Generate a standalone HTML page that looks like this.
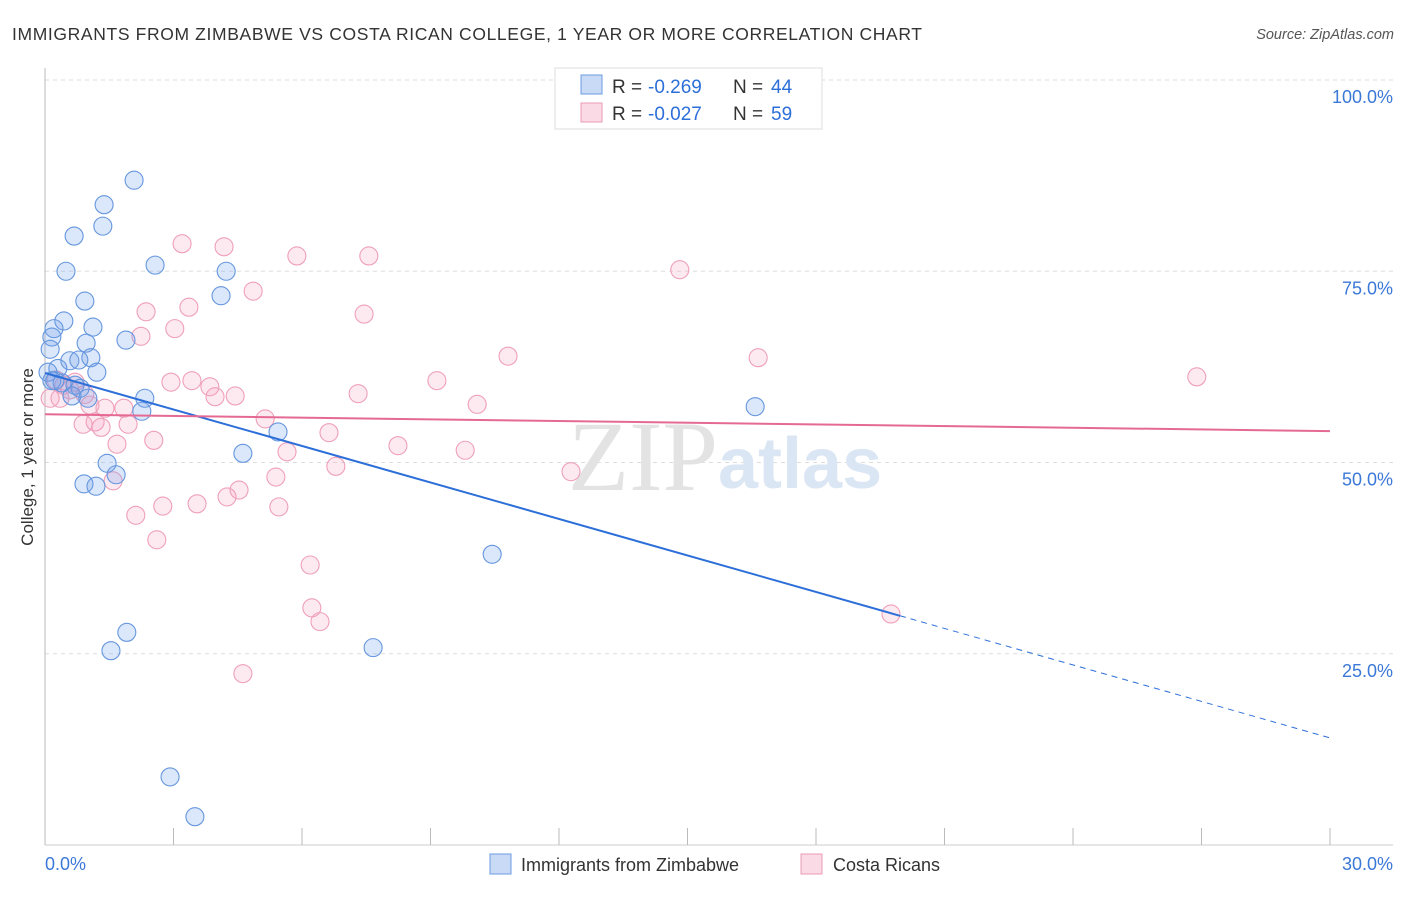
<!DOCTYPE html>
<html><head><meta charset="utf-8"><style>
body{margin:0;background:#fff;font-family:"Liberation Sans",sans-serif;}
svg text{font-family:"Liberation Sans",sans-serif;}
</style></head><body>
<svg width="1406" height="892" xmlns="http://www.w3.org/2000/svg" id="chart">
<text x="12" y="40" font-size="17.5" fill="#333" textLength="910" lengthAdjust="spacing">IMMIGRANTS FROM ZIMBABWE VS COSTA RICAN COLLEGE, 1 YEAR OR MORE CORRELATION CHART</text>
<text x="1394" y="39" font-size="14.5" fill="#555" font-style="italic" text-anchor="end">Source: ZipAtlas.com</text>
<g id="grid"></g>
<text x="718" y="490" font-size="100" fill="#e3e3e3" text-anchor="end" style="font-family:'Liberation Serif',serif">ZIP</text>
<text x="718" y="488" font-size="72" fill="#dbe6f4" font-weight="bold">atlas</text>
<g id="axes"></g>
<g id="pts"></g>
<g id="lines"></g>
<text x="33" y="457" font-size="17" fill="#333" text-anchor="middle" transform="rotate(-90 33 457)">College, 1 year or more</text>
<g>
<rect x="555" y="68" width="267" height="61" fill="#fff" stroke="#ddd"/>
<rect x="581" y="75" width="21" height="19" fill="rgba(100,150,230,0.35)" stroke="#6a9be0"/>
<rect x="581" y="103" width="21" height="19" fill="rgba(240,150,180,0.35)" stroke="#ea9ab4"/>
<text x="612" y="93" font-size="19" fill="#333">R =</text>
<text x="648" y="93" font-size="19" fill="#2d6fd8">-0.269</text>
<text x="733" y="93" font-size="19" fill="#333">N =</text>
<text x="771" y="93" font-size="19" fill="#2d6fd8">44</text>
<text x="612" y="120" font-size="19" fill="#333">R =</text>
<text x="648" y="120" font-size="19" fill="#2d6fd8">-0.027</text>
<text x="733" y="120" font-size="19" fill="#333">N =</text>
<text x="771" y="120" font-size="19" fill="#2d6fd8">59</text>
</g>
<rect x="490" y="854" width="21" height="20" fill="rgba(100,150,230,0.35)" stroke="#6a9be0"/>
<text x="521" y="871" font-size="18" fill="#333">Immigrants from Zimbabwe</text>
<rect x="801" y="854" width="21" height="20" fill="rgba(240,150,180,0.35)" stroke="#ea9ab4"/>
<text x="833" y="871" font-size="18" fill="#333">Costa Ricans</text>
</svg>
<script>
const yTicks=[100,75,50,25];
const yTickLabels=["100.0%","75.0%","50.0%","25.0%"];
const xTickLabels=["0.0%","30.0%"];
const blueX=[2.08,1.38,1.35,0.68,0.49,2.57,4.23,0.93,4.11,0.44,1.12,0.21,0.16,1.89,0.96,0.12,0.58,1.07,0.79,1.21,0.30,0.07,0.23,0.40,0.16,0.70,0.82,0.63,1.00,2.33,2.26,5.44,4.62,1.45,1.66,0.91,1.19,10.44,1.91,1.54,7.66,2.92,3.50,16.58];
const blueY=[86.9,83.7,80.9,79.6,75.0,75.8,75.0,71.1,71.8,68.5,67.7,67.5,66.4,66.0,65.6,64.8,63.3,63.7,63.4,61.8,62.3,61.8,60.7,60.4,60.7,60.1,59.7,58.7,58.4,58.4,56.7,54.0,51.2,49.9,48.4,47.2,46.9,38.0,27.8,25.4,25.8,8.9,3.7,57.3];
const pinkX=[3.20,4.18,5.88,7.56,14.82,4.86,3.36,2.36,7.45,3.03,2.24,10.81,16.65,26.89,2.94,3.43,9.15,3.85,3.97,4.44,7.31,10.09,0.26,0.44,0.70,0.35,0.12,1.05,1.40,1.84,5.14,1.17,0.89,1.31,1.94,6.63,1.68,2.54,8.24,5.65,9.81,6.79,12.28,5.39,1.59,4.53,4.25,3.55,2.75,5.46,2.12,2.61,6.19,6.23,6.42,19.75,4.62,0.58,0.93];
const pinkY=[78.6,78.2,77.0,77.0,75.2,72.4,70.3,69.7,69.4,67.5,66.5,63.9,63.7,61.2,60.5,60.7,60.7,59.9,58.6,58.7,59.0,57.6,60.8,60.1,60.5,58.4,58.4,57.5,57.1,57.1,55.7,55.3,55.0,54.6,55.0,53.9,52.4,52.9,52.2,51.4,51.6,49.5,48.8,48.1,47.6,46.4,45.5,44.6,44.3,44.2,43.1,39.9,36.6,31.0,29.2,30.2,22.4,59.5,58.9];
const blueTrend=[61.7,14.0]; const blueSolidEnd=19.96;
const pinkTrend=[56.3,54.1];
const NS="http://www.w3.org/2000/svg";
const sx=v=>45+v/30*1285, sy=v=>845-v/100*765;
function mk(tag,attrs,parent){const e=document.createElementNS(NS,tag);for(const k in attrs)e.setAttribute(k,attrs[k]);parent.appendChild(e);return e;}
const grid=document.getElementById('grid'),axes=document.getElementById('axes'),pts=document.getElementById('pts'),lines=document.getElementById('lines');
yTicks.forEach((t,i)=>{
 const l=mk('line',{x1:45,x2:1393,y1:sy(t),y2:sy(t),stroke:'#ddd','stroke-dasharray':'4,4'},grid);
 
 
 const tx=mk('text',{x:1393,y:sy(t)+23,'font-size':18,fill:'#3b78d8','text-anchor':'end'},axes);
 tx.textContent=yTickLabels[i];
 
 
});
const al=mk('line',{x1:45,x2:45,y1:68,y2:845,stroke:'#bbb'},axes);


const bl=mk('line',{x1:45,x2:1393,y1:845,y2:845,stroke:'#ccc'},axes);


for(let i=0;i<=10;i++){const x=sx(i*3);
 const t=mk('line',{x1:x,x2:x,y1:828,y2:845,stroke:'#bbb'},axes);
 
 }
[[0,'start',45],[30,'end',1393]].forEach((d,i)=>{
 const tx=mk('text',{x:d[2],y:870,'font-size':18,fill:'#3b78d8','text-anchor':d[1]},axes);
 tx.textContent=xTickLabels[i];
 
 });
pinkX.forEach((x,i)=>{const c=mk('circle',{cx:sx(x),cy:sy(pinkY[i]),r:9,fill:'rgba(244,160,190,0.22)',stroke:'#ef9fb9','stroke-width':1.1},pts);
 
 });
blueX.forEach((x,i)=>{const c=mk('circle',{cx:sx(x),cy:sy(blueY[i]),r:9,fill:'rgba(110,160,235,0.25)',stroke:'#6596de','stroke-width':1.1},pts);
 
 });
const by=x=>blueTrend[0]+(blueTrend[1]-blueTrend[0])*x/30;
const b1=mk('line',{x1:sx(0),y1:sy(by(0)),x2:sx(blueSolidEnd),y2:sy(by(blueSolidEnd)),stroke:'#2d6fd8','stroke-width':2},lines);


const b2=mk('line',{x1:sx(blueSolidEnd),y1:sy(by(blueSolidEnd)),x2:sx(30),y2:sy(by(30)),stroke:'#2d6fd8','stroke-width':1,'stroke-dasharray':'6,5'},lines);


const p1=mk('line',{x1:sx(0),y1:sy(pinkTrend[0]),x2:sx(30),y2:sy(pinkTrend[1]),stroke:'#e56a93','stroke-width':2},lines);


</script>
</body></html>
